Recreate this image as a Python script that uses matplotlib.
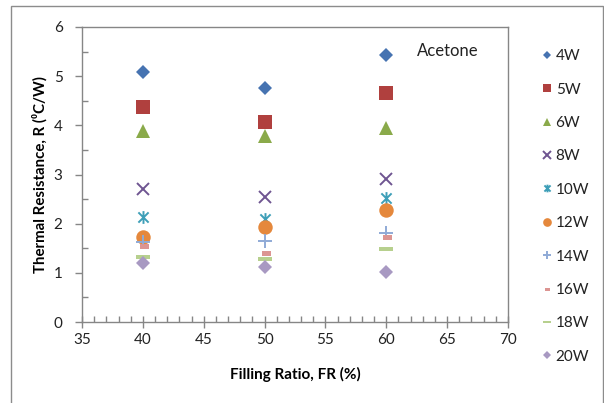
import matplotlib
matplotlib.use("Agg")
import matplotlib.pyplot as plt
from matplotlib.path import Path
from matplotlib.patches import Rectangle
from matplotlib.ticker import MultipleLocator

plt.rcParams['font.family'] = ['Lato', 'DejaVu Sans']

fill_ratio = [40, 50, 60]
series_labels = ['4W', '5W', '6W', '8W', '10W', '12W', '14W', '16W', '18W', '20W']
r_4w = [5.08, 4.75, 5.44]
r_5w = [4.37, 4.07, 4.65]
r_6w = [3.88, 3.79, 3.95]
r_8w = [2.70, 2.55, 2.91]
r_10w = [2.13, 2.09, 2.52]
r_12w = [1.73, 1.94, 2.28]
r_14w = [1.62, 1.65, 1.82]
r_16w = [1.55, 1.41, 1.73]
r_18w = [1.33, 1.28, 1.48]
r_20w = [1.19, 1.11, 1.02]
series_values = [r_4w, r_5w, r_6w, r_8w, r_10w, r_12w, r_14w, r_16w, r_18w, r_20w]
x_ticks = [35, 40, 45, 50, 55, 60, 65, 70]
y_ticks = [0, 1, 2, 3, 4, 5, 6]

asterisk = Path([(-1, -1), (1, 1), (-1, 1), (1, -1), (0, -1.25), (0, 1.25)],
                [Path.MOVETO, Path.LINETO, Path.MOVETO, Path.LINETO, Path.MOVETO, Path.LINETO])
short_dash = Path([(-0.5, -0.45), (1.0, -0.45), (1.0, 0.45), (-0.5, 0.45), (-0.5, -0.45)],
                  [Path.MOVETO, Path.LINETO, Path.LINETO, Path.LINETO, Path.CLOSEPOLY])
long_dash = Path([(-1, -0.28), (1, -0.28), (1, 0.28), (-1, 0.28), (-1, -0.28)],
                 [Path.MOVETO, Path.LINETO, Path.LINETO, Path.LINETO, Path.CLOSEPOLY])

styles = [
    dict(marker='D', color='#4673B1', ms=7.4, mew=0),
    dict(marker='s', color='#B0403E', ms=10.2, mew=0),
    dict(marker='^', color='#8AAA4A', ms=10.5, mew=0),
    dict(marker='x', color='#6F5591', ms=9.2, mew=1.4),
    dict(marker=asterisk, color='#3E9FB8', ms=9.2, mew=1.4),
    dict(marker='o', color='#E5883C', ms=10.4, mew=0),
    dict(marker='+', color='#8FAAD6', ms=10.0, mew=1.4),
    dict(marker=short_dash, color='#DC9592', ms=8.0, mew=0),
    dict(marker=long_dash, color='#B7D08E', ms=10.5, mew=0),
    dict(marker='D', color='#A899C2', ms=7.4, mew=0),
]

fig = plt.figure(figsize=(6.04, 4.03), dpi=100)
ax = fig.add_axes([82 / 604, 1 - 322 / 403, (508 - 82) / 604, (322 - 27) / 403])

for lab, vals, st in zip(series_labels, series_values, styles):
    ax.plot(fill_ratio, vals, linestyle='none', marker=st['marker'], color=st['color'],
            markersize=st['ms'], markeredgewidth=st['mew'], markeredgecolor=st['color'],
            label=lab)

ax.set_xlim(35, 70)
ax.set_ylim(0, 6)
ax.set_xticks(x_ticks)
ax.set_yticks(y_ticks)
ax.xaxis.set_minor_locator(MultipleLocator(1))
ax.yaxis.set_minor_locator(MultipleLocator(0.5))
for s in ax.spines.values():
    s.set_color('#868686')
    s.set_linewidth(1.0)
ax.tick_params(axis='x', which='major', direction='inout', length=8, width=1, color='#868686',
               labelsize=11, pad=4, labelcolor='#222222')
ax.tick_params(axis='x', which='minor', direction='in', length=4, width=1, color='#868686')
ax.tick_params(axis='y', which='major', direction='out', length=5, width=1, color='#868686',
               labelsize=11, pad=9, labelcolor='#222222')
ax.tick_params(axis='y', which='minor', direction='in', length=4, width=1, color='#868686')

ax.set_xlabel('Filling Ratio, FR (%)', fontsize=11, fontweight='bold', labelpad=14)
ax.set_ylabel('Thermal Resistance, R (\u2070C/W)', fontsize=10.8, fontweight='bold',
              family=['Lato', 'DejaVu Sans'])
ax.yaxis.set_label_coords((40 - 82) / (508 - 82), 0.5)
ax.yaxis.label.set_va('center')

ax.text(417 / 604, 1 - 51 / 403, 'Acetone', transform=fig.transFigure, fontsize=12,
        va='center', ha='left', color='#222222')

leg = fig.legend(loc='upper left', bbox_to_anchor=(535 / 604, 1 - 43 / 403), frameon=False,
                 fontsize=11, markerscale=0.6, handlelength=0.8, handletextpad=0.15,
                 labelspacing=1.27, borderaxespad=0, numpoints=1)
for t in leg.get_texts():
    t.set_color('#222222')

fig.patches.append(Rectangle((11 / 604, -0.05), (603 - 11) / 604, 1.05 - 6 / 403,
                             transform=fig.transFigure, fill=False, edgecolor='#8c8c8c',
                             linewidth=1.0))

fig.savefig('out.png', dpi=100)
